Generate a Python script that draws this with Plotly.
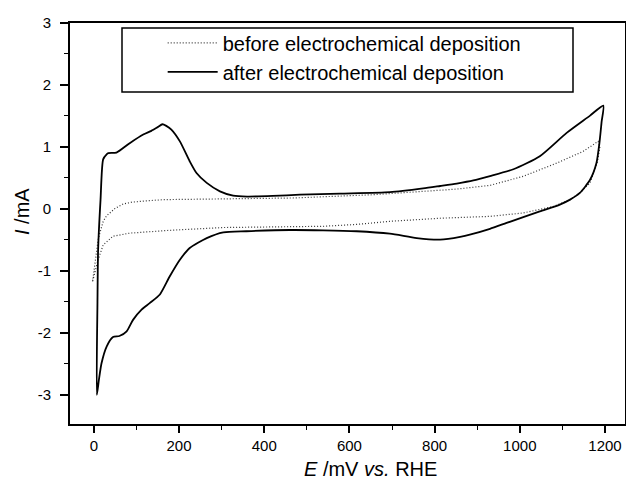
import plotly.graph_objects as go

# ---- data ----
after_E = [7, 8.5, 10, 15.7, 21.8, 30, 34, 53, 85, 116, 135, 150, 161, 170, 182, 202, 225, 241, 265, 296, 327, 360, 420, 484, 578, 695, 773, 813, 852, 891, 930, 985, 1047, 1110, 1165, 1196,
           1192, 1187, 1180, 1165, 1141, 1118, 1094, 1047, 969, 930, 885, 860, 813, 758, 695, 617, 538, 460, 358, 304, 265, 225, 202, 178, 155, 131, 112, 92, 77, 60, 45, 30, 18, 12, 7]
after_I = [-3.0, -1.5, -0.66, 0.15, 0.80, 0.88, 0.90, 0.91, 1.065, 1.20, 1.26, 1.32, 1.366, 1.34, 1.28, 1.09, 0.77, 0.58, 0.42, 0.284, 0.215, 0.20, 0.21, 0.23, 0.247, 0.27, 0.33, 0.37, 0.41, 0.46, 0.53, 0.64, 0.85, 1.227, 1.506, 1.667,
           1.4, 1.065, 0.74, 0.47, 0.258, 0.15, 0.07, -0.04, -0.226, -0.32, -0.41, -0.45, -0.495, -0.47, -0.40, -0.36, -0.345, -0.34, -0.36, -0.377, -0.47, -0.63, -0.82, -1.09, -1.38, -1.52, -1.625, -1.79, -1.975, -2.05, -2.066, -2.22, -2.49, -2.75, -3.0]

before_E = [-3, 0, 3, 6, 10, 14, 22, 30, 38, 50, 69, 90, 124, 163, 280, 470, 656, 773, 852, 930, 1008, 1087, 1149, 1184,
            1188, 1182, 1165, 1141, 1118, 1079, 1008, 930, 813, 695, 617, 538, 460, 304, 178, 85, 45, 22, 10, 3, -3]
before_I = [-1.17, -1.0, -0.82, -0.64, -0.50, -0.39, -0.20, -0.11, -0.065, 0.01, 0.08, 0.11, 0.13, 0.15, 0.16, 0.177, 0.23, 0.284, 0.32, 0.38, 0.526, 0.74, 0.93, 1.09,
            1.0, 0.75, 0.42, 0.26, 0.15, 0.04, -0.065, -0.12, -0.15, -0.20, -0.25, -0.28, -0.29, -0.30, -0.345, -0.39, -0.44, -0.58, -0.82, -1.0, -1.17]

x_ticks = [0, 200, 400, 600, 800, 1000, 1200]
y_ticks = [-3, -2, -1, 0, 1, 2, 3]
y_ticktext = ["-3", "-2", "-1", "0", "1", "2", "3"]

legend_names = ["before electrochemical deposition", "after electrochemical deposition"]

FONT = "Arial, Liberation Sans, Helvetica, sans-serif"

fig = go.Figure()
fig.add_trace(go.Scatter(x=before_E, y=before_I, mode="lines", name=legend_names[0],
                         line=dict(color="#333333", width=1.2, dash="1px,2px")))
fig.add_trace(go.Scatter(x=after_E, y=after_I, mode="lines", name=legend_names[1],
                         line=dict(color="black", width=1.8, shape="spline", smoothing=0.6)))

# plot area in pixels: x 70..625, y 23..424
PW, PH = 555, 401

fig.update_layout(
    width=626, height=479,
    margin=dict(l=70, r=1, t=23, b=55, autoexpand=False),
    paper_bgcolor="white", plot_bgcolor="white",
    font=dict(family=FONT, color="black", size=15),
    showlegend=True,
    legend=dict(x=0.167, y=0.999, xanchor="left", yanchor="top",
                bgcolor="rgba(0,0,0,0)", borderwidth=0,
                font=dict(size=20, family=FONT), itemwidth=50,
                tracegroupgap=0),
    xaxis=dict(range=[-56, 1247], tickvals=x_ticks, showgrid=False, zeroline=False, automargin=False,
               showline=True, linecolor="black", linewidth=2, mirror=True,
               ticks="outside", ticklen=7, tickwidth=1.5, tickcolor="black",
               minor=dict(dtick=100, ticks="outside", ticklen=4, tickwidth=1.2, tickcolor="black"),
               tickfont=dict(size=15)),
    yaxis=dict(range=[-3.47, 3.0], tickvals=y_ticks, ticktext=y_ticktext, showgrid=False, zeroline=False, automargin=False,
               showline=True, linecolor="black", linewidth=2, mirror=True,
               ticks="outside", ticklen=8, tickwidth=1.5, tickcolor="black",
               minor=dict(dtick=0.5, ticks="outside", ticklen=4, tickwidth=1.2, tickcolor="black"),
               tickfont=dict(size=15), ticklabelstandoff=6),
)

# legend frame
fig.add_shape(type="rect", xref="paper", yref="paper",
              x0=(122 - 70) / PW, x1=(573 - 70) / PW,
              y0=1 - (92 - 23) / PH, y1=1 - (28 - 23) / PH,
              line=dict(color="black", width=1.5), fillcolor="rgba(0,0,0,0)")

fig.add_annotation(text="<i>E</i> /mV <i>vs.</i> RHE", xref="paper", yref="paper",
                   x=(370 - 70) / PW, y=-(469 - 424) / PH, xanchor="center", yanchor="middle",
                   showarrow=False, font=dict(size=20, family=FONT))
fig.add_annotation(text="<i>I</i> /mA", xref="paper", yref="paper",
                   x=-(70 - 22) / PW, y=1 - (212 - 23) / PH, xanchor="center", yanchor="middle",
                   textangle=-90, showarrow=False, font=dict(size=20, family=FONT))

fig.write_html("out.html", config={"displayModeBar": False},
               post_script="document.body.style.margin='0';document.body.style.overflow='hidden';")
